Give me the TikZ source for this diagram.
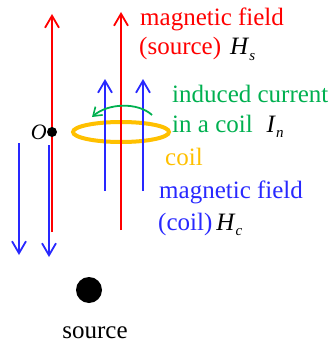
\documentclass[tikz,border=0pt]{standalone}
\usepackage{fontspec}
\setmainfont{Liberation Serif}
\usetikzlibrary{arrows.meta,shapes.geometric}
\definecolor{fieldred}{RGB}{255,0,0}
\definecolor{fieldblue}{RGB}{40,40,255}
\definecolor{curgreen}{RGB}{0,176,80}
\definecolor{coilorange}{RGB}{255,192,0}
\newcommand{\symsub}[2]{\textit{#1}\raisebox{-0.45ex}{\fontsize{15}{15}\selectfont\textit{#2}}}
\begin{document}
\begin{tikzpicture}[
		x = 1pt, y = -1pt,
		fld/.style  = {line width=2.2pt, -{Straight Barb[length=12pt,width=14pt,line width=1.8pt]}},
		lbl/.style  = {font=\fontsize{25}{30}\selectfont, inner sep=0pt, anchor=base west},
		nd/.style   = {circle, fill=black, inner sep=0pt}
		]
		\useasboundingbox (0,0) rectangle (333,345);
		
		% coil
		\node[draw=coilorange, line width=4pt, ellipse, minimum width=96pt, minimum height=20pt, inner sep=0pt] (coil) at (121,132) {};
		
		% field of the source
		\coordinate (s1a) at (52,232);  \coordinate (s1b) at (52,14);
		\coordinate (s2a) at (121,230); \coordinate (s2b) at (121,12);
		\draw[fld, fieldred] (s1a) -- (s1b);
		\draw[fld, fieldred] (s2a) -- (s2b);
		
		% field of the coil
		\coordinate (c1a) at (105,191); \coordinate (c1b) at (105,79);
		\coordinate (c2a) at (143,191); \coordinate (c2b) at (143,79);
		\coordinate (c3a) at (19,143);  \coordinate (c3b) at (19,255);
		\coordinate (c4a) at (49,145);  \coordinate (c4b) at (49,257);
		\draw[fld, fieldblue] (c1a) -- (c1b);
		\draw[fld, fieldblue] (c2a) -- (c2b);
		\draw[fld, fieldblue] (c3a) -- (c3b);
		\draw[fld, fieldblue] (c4a) -- (c4b);
		
		% induced current
		\coordinate (i1) at (152,115);
		\coordinate (i2) at (92,117);
		\draw[curgreen, line width=1.8pt, -{Straight Barb[length=8pt,width=11pt,line width=1.6pt]}]
		(i1) .. controls (138,102) and (108,103) .. (i2);
		
		% origin and source
		\node[nd, minimum size=10pt] (o) at (52,132) {};
		\node[lbl, font=\fontsize{22}{26}\selectfont\itshape, anchor=base east] (olbl) at (47,139) {O};
		\node[nd, minimum size=26pt] (src) at (89,290) {};
		\node[lbl, anchor=base] (srclbl) at (95,338) {source};
		
		% labels
		\node[lbl, text=fieldred] (hs1) at (140,26) {magnetic field};
		\node[lbl, text=fieldred] (hs2) at (139,55) {(source)\hspace{9pt}\textcolor{black}{\symsub{H}{s}}};
		\node[lbl, text=curgreen] (in1) at (172,102) {induced current};
		\node[lbl, text=curgreen] (in2) at (172,132) {in a coil\hspace{14pt}\textcolor{black}{\symsub{I}{n}}};
		\node[lbl, text=coilorange] (cl) at (165,165) {coil};
		\node[lbl, text=fieldblue] (hc1) at (159,198) {magnetic field};
		\node[lbl, text=fieldblue] (hc2) at (158,230) {(coil)\hspace{4pt}\textcolor{black}{\symsub{H}{c}}};
	\end{tikzpicture}
\end{document}
